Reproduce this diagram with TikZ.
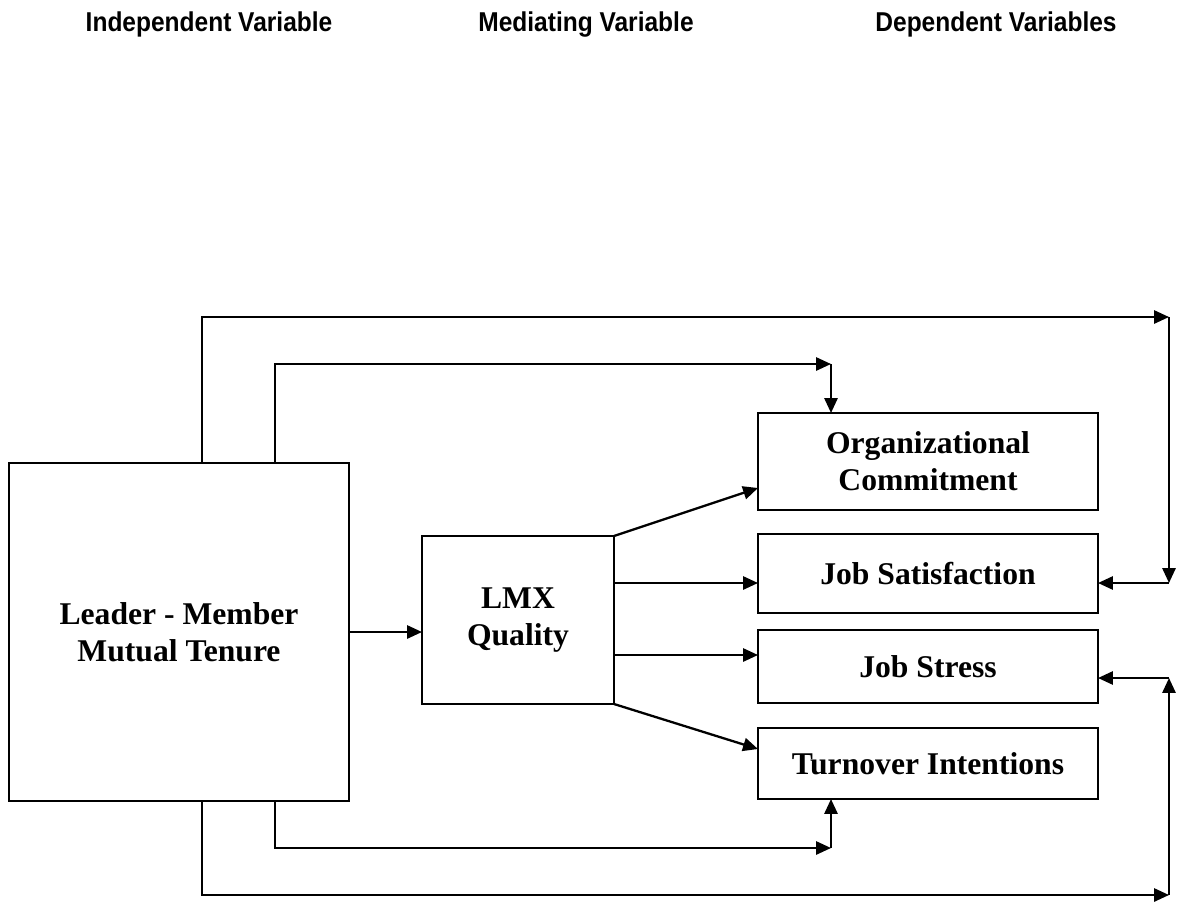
\documentclass[tikz,border=0pt]{standalone}
\usepackage{fontspec}
\setmainfont{Liberation Serif}
\newfontfamily\headfont[FakeStretch=0.9]{Liberation Sans}
\usetikzlibrary{arrows.meta,calc}

\begin{document}
\begin{tikzpicture}[x=0.2mm, y=-0.2mm, line width=1.3pt,
    box/.style={draw, inner sep=0pt, outer sep=0pt, align=center,
      font=\bfseries\fontsize{18}{21}\selectfont},
    head/.style={anchor=base, font=\headfont\bfseries\fontsize{15.5}{18}\selectfont},
    arr/.style={-{Triangle[length=8.5pt,width=7.5pt]}}]
    \useasboundingbox (0,0) rectangle (1178,909);
    % headings
    \node[head] (hind) at (209,31) {Independent Variable};
    \node[head] (hmed) at (586,31) {Mediating Variable};
    \node[head] (hdep) at (996,31) {Dependent Variables};
    % boxes
    \node[box, minimum width=6.8cm, minimum height=6.76cm] (tenure) at (179,632)
        {Leader - Member\\Mutual Tenure};
    \node[box, minimum width=3.84cm, minimum height=3.36cm] (lmx) at (518,620)
        {LMX\\Quality};
    \node[box, minimum width=6.8cm, minimum height=1.94cm] (commit) at (928,461.5)
        {Organizational\\Commitment};
    \node[box, minimum width=6.8cm, minimum height=1.58cm] (satis) at (928,573.5)
        {Job Satisfaction};
    \node[box, minimum width=6.8cm, minimum height=1.46cm] (stress) at (928,666.5)
        {Job Stress};
    \node[box, minimum width=6.8cm, minimum height=1.42cm] (turnover) at (928,763.5)
        {Turnover Intentions};
    % corners of the connectors
    \coordinate (o1) at (202,317);
    \coordinate (o2) at (1169,317);
    \coordinate (o3) at (1169,583);
    \coordinate (i1) at (275,364);
    \coordinate (i2) at (831,364);
    \coordinate (b1) at (275,848);
    \coordinate (b2) at (831,848);
    \coordinate (u1) at (202,895);
    \coordinate (u2) at (1169,895);
    \coordinate (u3) at (1169,678);
    \coordinate (c) at ($(commit.south west)+(0,-22)$);
    \coordinate (s) at ($(stress.west)+(0,-11.5)$);
    \coordinate (t) at ($(turnover.west)+(0,-14.5)$);
    % mediation
    \draw[arr] (tenure.east) -- (tenure.east -| lmx.west);
    \draw[arr] (lmx.north east) -- (c);
    \draw[arr] (lmx.east |- o3) -- (o3 -| satis.west);
    \draw[arr] (s -| lmx.east) -- (s);
    \draw[arr] (lmx.south east) -- (t);
    % direct paths
    \draw[arr] (o1 |- tenure.north) -- (o1) -- (o2);
    \draw[arr] (o2) -- (o3);
    \draw[arr] (o3) -- (o3 -| satis.east);
    \draw[arr] (i1 |- tenure.north) -- (i1) -- (i2);
    \draw[arr] (i2) -- (i2 |- commit.north);
    \draw[arr] (b1 |- tenure.south) -- (b1) -- (b2);
    \draw[arr] (b2) -- (b2 |- turnover.south);
    \draw[arr] (u1 |- tenure.south) -- (u1) -- (u2);
    \draw[arr] (u2) -- (u3);
    \draw[arr] (u3) -- (u3 -| stress.east);
\end{tikzpicture}
\end{document}
